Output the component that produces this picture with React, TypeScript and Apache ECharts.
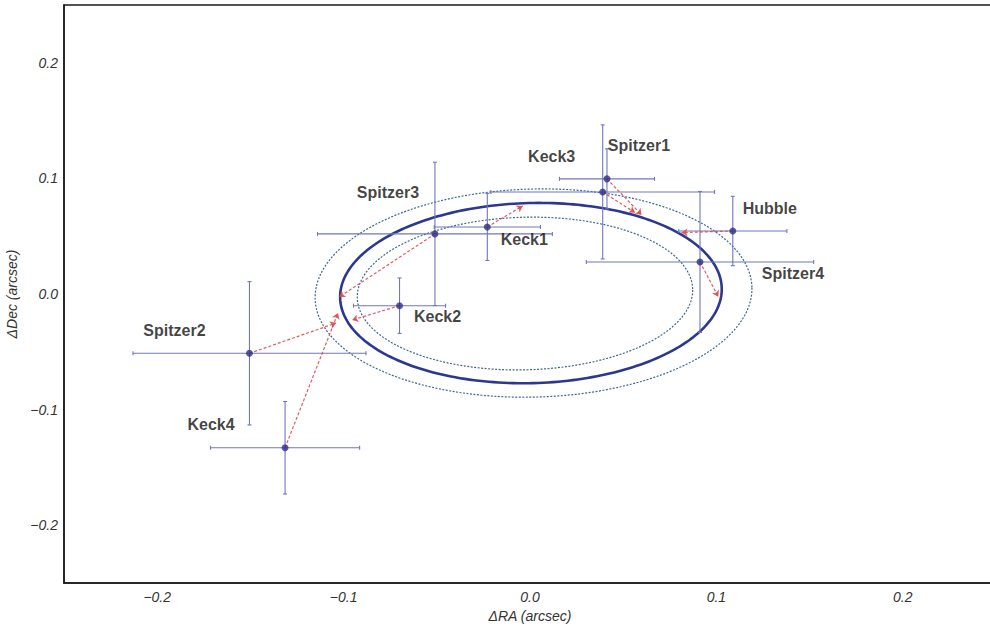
import React, { useEffect, useRef } from "react";
import * as echarts from "echarts";

// Observation labels
const names = ["Spitzer1", "Keck3", "Hubble", "Spitzer4", "Spitzer3", "Keck1", "Keck2", "Spitzer2", "Keck4"];
// Observed offsets (arcsec)
const obsRA = [0.0413, 0.039, 0.1088, 0.0912, -0.051, -0.0229, -0.070, -0.1505, -0.1314];
const obsDec = [0.0996, 0.0883, 0.0545, 0.0277, 0.052, 0.058, -0.0101, -0.0513, -0.133];
// Error bars (half-widths, arcsec)
const errRA = [0.0255, 0.06, 0.029, 0.061, 0.063, 0.0285, 0.0247, 0.0625, 0.04];
const errDec = [0.026, 0.058, 0.03, 0.061, 0.062, 0.029, 0.024, 0.062, 0.04];
// Model positions on the best-fit orbit (arrow tips)
const modelRA = [0.0599, 0.0563, 0.0813, 0.101, -0.1024, -0.0039, -0.0954, -0.104, -0.103];
const modelDec = [0.0684, 0.0704, 0.0531, -0.0023, -0.0026, 0.0762, -0.0225, -0.0251, -0.0165];
// Label offsets (px) relative to the point
const labelDX = [32, -51, 37, 93, -47, 37, 38, -75, -74];
const labelDY = [-33, -35, -22, 12, -41, 13, 11, -23, -23];
// Orbits: [centerRA, centerDec, semiAxisRA, semiAxisDec, tiltDeg]
const orbitBest = [0.0005, 0.0008, 0.1024, 0.0779, 1.5];
const orbitOuter = [0.0019, 0.0008, 0.1172, 0.09, 1.5];
const orbitInner = [-0.0027, 0.0004, 0.09, 0.066, 1.5];
// Tick values
const tickValues = [-0.2, -0.1, 0, 0.1, 0.2];

const fmt = (v: number) => (v < -1e-9 ? "\u2212" : "") + Math.abs(v).toFixed(1);

function ellipseRender(color: string, width: number, dash: number[] | null) {
  return (params: any, api: any) => {
    const cx = api.value(0), cy = api.value(1), a = api.value(2), b = api.value(3), tilt = api.value(4);
    const c = api.coord([cx, cy]);
    const s = api.size([a, b]);
    const rx = s[0], ry = s[1];
    const phi = (tilt * Math.PI) / 180;
    const pts: number[][] = [];
    const N = 240;
    for (let i = 0; i <= N; i++) {
      const t = (i / N) * Math.PI * 2;
      const u = rx * Math.cos(t), v = ry * Math.sin(t);
      const U = u * Math.cos(phi) - v * Math.sin(phi);
      const V = u * Math.sin(phi) + v * Math.cos(phi);
      pts.push([c[0] + U, c[1] - V]);
    }
    return {
      type: "polyline",
      shape: { points: pts },
      style: { stroke: color, lineWidth: width, fill: "none", lineDash: dash || undefined },
    };
  };
}

export default function App() {
  const ref = useRef<HTMLDivElement>(null);
  useEffect(() => {
    if (!ref.current) return;
    const chart = echarts.init(ref.current, null, { renderer: "svg" });
    const errData = names.map((n, i) => [obsRA[i], obsDec[i], errRA[i], errDec[i]]);
    const errColor = "#6f77bd";
    const option: any = {
      animation: false,
      backgroundColor: "#ffffff",
      grid: {
        left: 64,
        top: 5,
        width: 932,
        height: 578,
        show: true,
        borderColor: "#1a1a1a",
        borderWidth: 1.5,
        containLabel: false,
        outerBoundsMode: "none",
      },
      xAxis: {
        type: "value",
        min: -0.25,
        max: 0.25,
        name: "\u0394RA (arcsec)",
        nameLocation: "middle",
        nameGap: 21,
        nameTextStyle: { fontStyle: "italic", fontSize: 14, color: "#333", fontFamily: "Liberation Sans" },
        axisLine: { show: true, onZero: false, lineStyle: { color: "#1a1a1a", width: 1.5 } },
        axisTick: { show: false },
        splitLine: { show: false },
        axisLabel: {
          customValues: tickValues,
          formatter: fmt,
          fontStyle: "italic",
          fontSize: 14,
          color: "#333",
          margin: 7,
          fontFamily: "Liberation Sans",
        },
      },
      yAxis: {
        type: "value",
        min: -0.25,
        max: 0.25,
        name: "\u0394Dec (arcsec)",
        nameLocation: "middle",
        nameGap: 34,
        nameTextStyle: { fontStyle: "italic", fontSize: 14, color: "#333", fontFamily: "Liberation Sans" },
        axisLine: { show: true, onZero: false, lineStyle: { color: "#1a1a1a", width: 1.5 } },
        axisTick: { show: false },
        splitLine: { show: false },
        axisLabel: {
          customValues: tickValues,
          formatter: fmt,
          fontStyle: "italic",
          fontSize: 14,
          color: "#333",
          margin: 6,
          fontFamily: "Liberation Sans",
        },
      },
      series: [
        {
          type: "custom",
          name: "outer",
          renderItem: ellipseRender("#3f6a8c", 1.2, [2, 1.5]),
          data: [orbitOuter],
          z: 1,
          silent: true,
        },
        {
          type: "custom",
          name: "inner",
          renderItem: ellipseRender("#3f6a8c", 1.2, [2, 1.5]),
          data: [orbitInner],
          z: 1,
          silent: true,
        },
        {
          type: "custom",
          name: "best",
          renderItem: ellipseRender("#2b3890", 2.6, null),
          data: [orbitBest],
          z: 2,
          silent: true,
        },
        {
          type: "custom",
          name: "errors",
          z: 3,
          silent: true,
          data: errData,
          renderItem: (params: any, api: any) => {
            const x = api.value(0), y = api.value(1), ex = api.value(2), ey = api.value(3);
            const l = api.coord([x - ex, y]);
            const r = api.coord([x + ex, y]);
            const b = api.coord([x, y - ey]);
            const t = api.coord([x, y + ey]);
            const st = { stroke: errColor, lineWidth: 1.1 };
            const cap = 2;
            return {
              type: "group",
              children: [
                { type: "line", shape: { x1: l[0], y1: l[1], x2: r[0], y2: r[1] }, style: st },
                { type: "line", shape: { x1: b[0], y1: b[1], x2: t[0], y2: t[1] }, style: st },
                { type: "line", shape: { x1: l[0], y1: l[1] - cap, x2: l[0], y2: l[1] + cap }, style: st },
                { type: "line", shape: { x1: r[0], y1: r[1] - cap, x2: r[0], y2: r[1] + cap }, style: st },
                { type: "line", shape: { x1: b[0] - cap, y1: b[1], x2: b[0] + cap, y2: b[1] }, style: st },
                { type: "line", shape: { x1: t[0] - cap, y1: t[1], x2: t[0] + cap, y2: t[1] }, style: st },
              ],
            };
          },
        },
        {
          type: "lines",
          coordinateSystem: "cartesian2d",
          z: 4,
          silent: true,
          symbol: ["none", "arrow"],
          symbolSize: 6,
          lineStyle: { color: "#e04a4a", width: 1.2, type: [3, 2], opacity: 0.9 },
          data: names.map((n, i) => ({
            coords: [
              [obsRA[i], obsDec[i]],
              [modelRA[i], modelDec[i]],
            ],
          })),
        },
        {
          type: "scatter",
          z: 5,
          symbol: "circle",
          symbolSize: 7,
          itemStyle: { color: "#2e2f86" },
          data: names.map((n, i) => ({
            value: [obsRA[i], obsDec[i]],
            name: n,
            label: {
              show: true,
              formatter: n,
              position: "inside",
              offset: [labelDX[i], labelDY[i]],
              align: "center",
              verticalAlign: "middle",
              fontWeight: "bold",
              fontSize: 16,
              color: "#111",
              fontFamily: "Liberation Sans",
            },
          })),
        },
      ],
    };
    chart.setOption(option);
    return () => chart.dispose();
  }, []);
  return (
    <div
      ref={ref}
      style={{ position: "absolute", left: 0, top: 0, width: 990, height: 629, background: "#fff" }}
    />
  );
}
